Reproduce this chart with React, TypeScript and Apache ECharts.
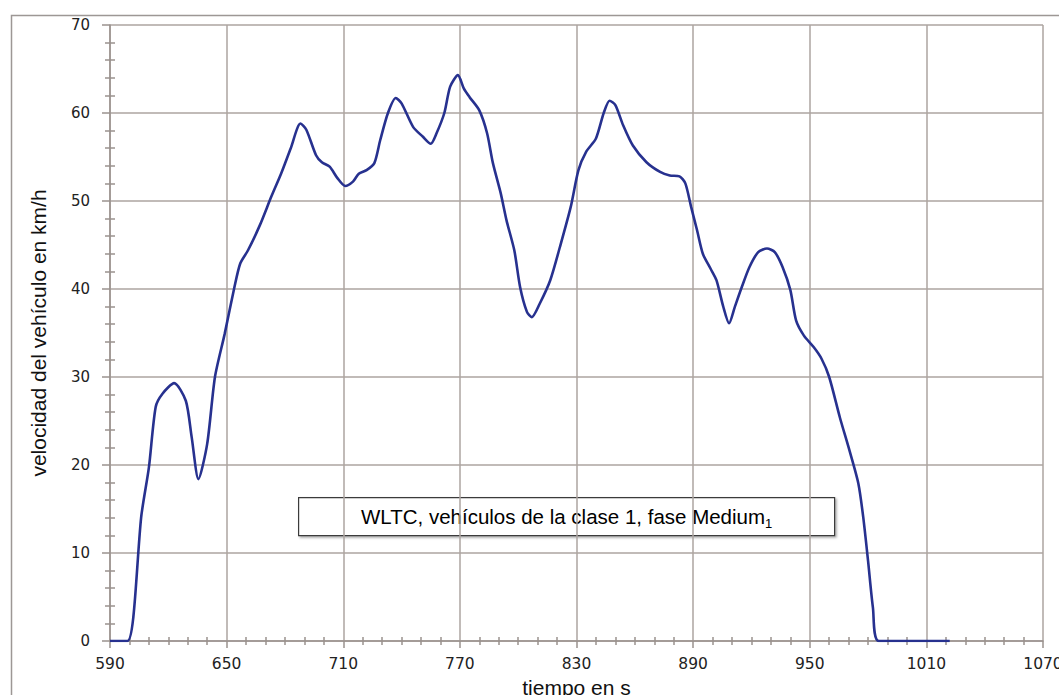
import React, { useEffect, useRef } from "react";
import * as echarts from "echarts";

const timeS: number[] = [
  590, 599, 602, 606, 610, 613.5, 617, 623, 629, 632, 635.5, 640, 644, 649, 654, 657, 661, 667, 673, 678,
  683, 688, 691, 696, 699, 703, 707, 711, 715, 718, 722, 726, 729, 733, 737, 740, 746, 751, 755, 758,
  762, 765, 769, 772, 775, 780, 784, 787, 791, 794, 798, 801, 804.5, 807, 811, 816.5, 821.5, 827, 831, 835,
  840, 844, 847, 850, 854, 859, 866, 873, 878, 883, 886, 889, 892, 895, 899, 902, 905.5, 908.5, 911.5, 915,
  919, 923.5, 928, 932, 936, 940, 943, 947, 952, 956, 960, 965.5, 970.5, 975, 977.5, 980, 982.5, 985.5, 1022,
];

const speedKmh: number[] = [
  0, 0, 2.7, 14, 19.7, 26.6, 28.1, 29.3, 27.3, 23.2, 18.4, 22.4, 30, 34.9, 40.2, 42.9, 44.4, 47.2, 50.5, 53.1,
  56, 58.8, 58.1, 55.2, 54.4, 53.9, 52.6, 51.7, 52.2, 53.1, 53.5, 54.3, 56.9, 60, 61.7, 61.1, 58.4, 57.3, 56.5, 57.7,
  60, 63, 64.3, 62.8, 61.8, 60.3, 57.7, 54.3, 50.9, 47.8, 44.4, 40.2, 37.4, 36.8, 38.3, 41, 44.8, 49.3, 53.5, 55.6,
  57.1, 60, 61.4, 60.9, 58.6, 56.3, 54.4, 53.3, 52.9, 52.8, 52, 49.3, 46.7, 44, 42.3, 41, 38, 36.1, 38, 40.2,
  42.5, 44.2, 44.6, 44.2, 42.5, 39.9, 36.4, 34.7, 33.4, 32.1, 30, 25.4, 21.6, 17.9, 14.1, 9.1, 3.8, 0, 0,
];

const xMin = 590;
const xMax = 1070;
const xStep = 60;
const yMin = 0;
const yMax = 70;
const yStep = 10;

const xTitle = "tiempo en s";
const yTitle = "velocidad del vehículo en km/h";
const noteMain = "WLTC, vehículos de la clase 1, fase Medium";
const noteSub = "1";

const gridColor = "#aca4a0";
const axisColor = "#9a928e";
const lineColor = "#27318f";

export default function App() {
  const ref = useRef<HTMLDivElement>(null);

  useEffect(() => {
    document.body.style.margin = "0";
    if (!ref.current) return;
    const chart = echarts.init(ref.current, undefined, { renderer: "svg" });
    const data = timeS.map((t, i) => [t, speedKmh[i]]);
    const plain = (v: number) => String(v);

    const baseX = {
      type: "value",
      min: xMin,
      max: xMax,
      interval: xStep,
      position: "bottom",
    };
    const baseY = {
      type: "value",
      min: yMin,
      max: yMax,
      interval: yStep,
      position: "left",
    };

    chart.setOption({
      animation: false,
      backgroundColor: "#ffffff",
      grid: { left: 110, top: 25, right: 16, bottom: 54, containLabel: false, outerBoundsMode: "none" },
      xAxis: [
        {
          ...baseX,
          name: xTitle,
          nameLocation: "middle",
          nameGap: 33,
          nameTextStyle: { fontFamily: "Liberation Sans", fontSize: 21, color: "#111" },
          axisLine: { show: true, lineStyle: { color: axisColor, width: 1.5 } },
          axisTick: { show: true, length: 7, lineStyle: { color: axisColor, width: 1.5 } },
          minorTick: { show: true, splitNumber: 6, length: 4, lineStyle: { color: axisColor, width: 1.5 } },
          axisLabel: { margin: 15, fontFamily: "DejaVu Sans", fontSize: 15.5, color: "#222", formatter: plain },
          splitLine: { show: true, lineStyle: { color: gridColor, width: 1.5 } },
        },
        {
          ...baseX,
          axisLine: { show: false },
          axisTick: { show: false, inside: true },
          minorTick: { show: true, splitNumber: 6, length: 4, lineStyle: { color: axisColor, width: 1.5 } },
          axisLabel: { show: false },
          splitLine: { show: false },
        },
      ],
      yAxis: [
        {
          ...baseY,
          name: yTitle,
          nameLocation: "middle",
          nameRotate: 90,
          nameGap: 61,
          nameTextStyle: { fontFamily: "Liberation Sans", fontSize: 21, color: "#111" },
          axisLine: { show: true, lineStyle: { color: axisColor, width: 1.5 } },
          axisTick: { show: true, length: 8, lineStyle: { color: axisColor, width: 1.5 } },
          minorTick: { show: true, splitNumber: 5, length: 5, lineStyle: { color: axisColor, width: 1.5 } },
          axisLabel: { margin: 20, fontFamily: "DejaVu Sans", fontSize: 15, color: "#222", formatter: plain },
          splitLine: { show: true, lineStyle: { color: gridColor, width: 1.5 } },
        },
        {
          ...baseY,
          axisLine: { show: false },
          axisTick: { show: false, inside: true },
          minorTick: { show: true, splitNumber: 5, length: 5, lineStyle: { color: axisColor, width: 1.5 } },
          axisLabel: { show: false },
          splitLine: { show: false },
        },
      ],
      series: [
        {
          type: "line",
          xAxisIndex: 0,
          yAxisIndex: 0,
          data,
          showSymbol: false,
          smooth: 0.25,
          lineStyle: { color: lineColor, width: 2.6 },
          z: 5,
        },
      ],
      graphic: [
        {
          type: "rect",
          left: 9,
          top: 13,
          shape: { width: 1100, height: 800 },
          style: { fill: "none", stroke: "#9d9795", lineWidth: 1.5 },
          silent: true,
        },
        {
          type: "group",
          left: 298,
          top: 497,
          z: 10,
          children: [
            {
              type: "rect",
              shape: { x: 0, y: 0, width: 536, height: 38 },
              style: {
                fill: "#ffffff",
                stroke: "#3a3a3a",
                lineWidth: 1.2,
                shadowColor: "rgba(0,0,0,0.35)",
                shadowBlur: 2,
                shadowOffsetX: 1.5,
                shadowOffsetY: 1.5,
              },
            },
            {
              type: "text",
              x: 268,
              y: 19,
              style: {
                text: "{m|" + noteMain + "}{s|" + noteSub + "}",
                align: "center",
                verticalAlign: "middle",
                rich: {
                  m: { fontFamily: "Liberation Sans", fontSize: 20.5, color: "#111", lineHeight: 26 },
                  s: {
                    fontFamily: "Liberation Sans",
                    fontSize: 13,
                    color: "#111",
                    lineHeight: 13,
                    verticalAlign: "bottom",
                  },
                },
              },
            },
          ],
        },
      ],
    });

    return () => chart.dispose();
  }, []);

  return <div ref={ref} style={{ width: 1059, height: 695 }} />;
}
